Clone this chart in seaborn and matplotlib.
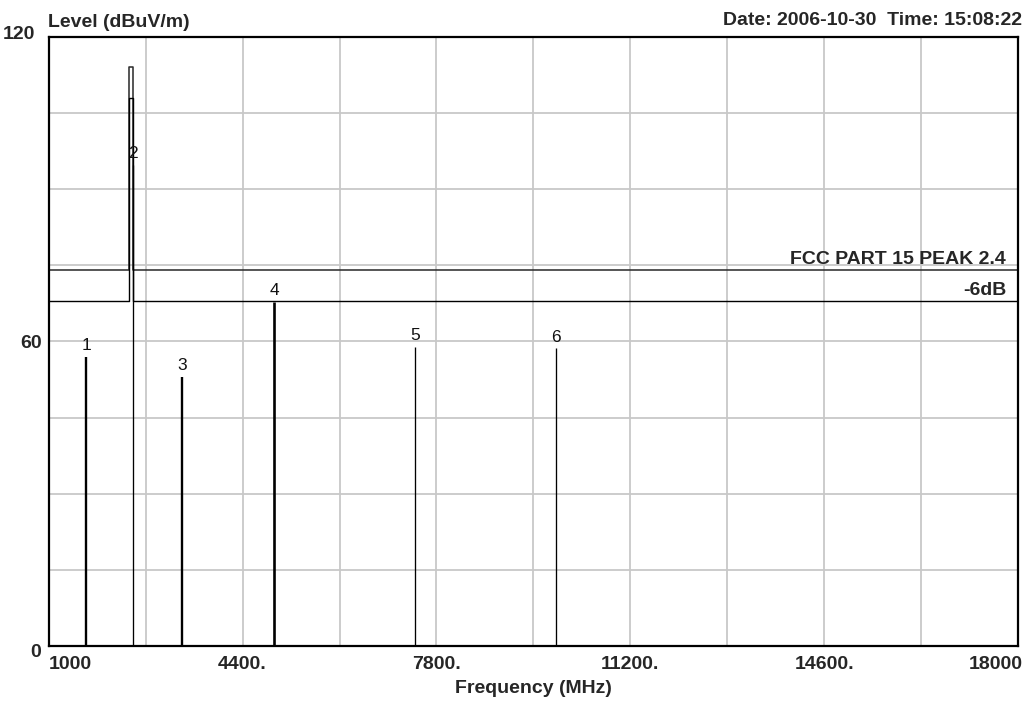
import matplotlib
matplotlib.use("Agg")
import matplotlib.pyplot as plt
import matplotlib.transforms as mtransforms
import numpy as np
import pandas as pd
import seaborn as sns

# FCC Part 15 limits for the 2.4 GHz band (peak limit and 6 dB margin)
limit_freq = [1000, 2400, 2400, 2483.5, 2483.5, 18000]
peak_limit = [74, 74, 114, 114, 74, 74]
margin_limit = [68, 68, 108, 108, 68, 68]

# Measured peaks
marker_ids = ["1", "2", "3", "4", "5", "6"]
marker_freq = [1660, 2475, 3335, 4950, 7425, 9900]
marker_level = [57.0, 94.7, 53.0, 67.8, 58.9, 58.6]

x_ticks = [1000, 4400, 7800, 11200, 14600, 18000]
x_tick_labels = ["1000", "4400.", "7800.", "11200.", "14600.", "18000"]
y_ticks = [0, 60, 120]
y_tick_labels = ["0", "60", "120"]

sns.set_theme(style="white")
plt.rcParams["font.family"] = ["Liberation Sans", "DejaVu Sans"]

fig = plt.figure(figsize=(10.35, 7.02), dpi=100)
ax = fig.add_axes([0.0471, 0.0798, 0.9365, 0.8679])

limits = pd.DataFrame({"freq": limit_freq, "peak": peak_limit, "margin": margin_limit})
sns.lineplot(data=limits, x="freq", y="peak", sort=False, estimator=None,
             color="#303030", linewidth=1.15, ax=ax)
sns.lineplot(data=limits, x="freq", y="margin", sort=False, estimator=None,
             color="#000000", linewidth=1.0, ax=ax)

spike_lw = [1.7, 0.95, 1.7, 1.9, 0.95, 0.95]
ax.vlines(marker_freq, 0, marker_level, colors="black", linewidths=spike_lw, zorder=3)
for mid, f, lvl in zip(marker_ids, marker_freq, marker_level):
    ax.annotate(mid, (f, lvl), xytext=(0, 5), textcoords="offset points",
                ha="center", va="baseline", fontsize=12.5, color="#111111")

ax.annotate("FCC PART 15 PEAK 2.4", (18000, peak_limit[-1]), xytext=(-8.5, 4.3),
            textcoords="offset points", ha="right", va="baseline",
            fontsize=14, fontweight="bold")
ax.annotate("-6dB", (18000, margin_limit[-1]), xytext=(-8, 4.3),
            textcoords="offset points", ha="right", va="baseline",
            fontsize=14, fontweight="bold")

ax.set_xlim(1000, 18000)
ax.set_ylim(0, 120)
ax.set_xticks(x_ticks)
ax.set_xticklabels(x_tick_labels, fontsize=14, fontweight="bold")
ax.set_yticks(y_ticks)
ax.set_yticklabels(y_tick_labels, fontsize=14, fontweight="bold")
ax.set_xticks(np.arange(1000, 18001, 1700), minor=True)
ax.set_yticks(np.arange(0, 121, 15), minor=True)
ax.tick_params(which="both", length=0)
ax.tick_params(axis="x", pad=7)
ax.tick_params(axis="y", pad=4.8)
ax.grid(which="both", color="#c8c8c8", linewidth=1.3)
ax.set_axisbelow(True)

for sp in ax.spines.values():
    sp.set_visible(True)
    sp.set_color("black")
    sp.set_linewidth(1.6)

ax.set_xlabel("Frequency (MHz)", fontsize=14, fontweight="bold", labelpad=5.5)
ax.set_ylabel("")

# nudge end labels the way the analyser prints them
xl = ax.get_xticklabels()
xl[0].set_ha("left")
xl[-1].set_ha("right")
xl[-1].set_transform(xl[-1].get_transform() + mtransforms.ScaledTranslation(5 / 100, 0, fig.dpi_scale_trans))
yl = ax.get_yticklabels()
yl[0].set_transform(yl[0].get_transform() + mtransforms.ScaledTranslation(-1 / 100, -5 / 100, fig.dpi_scale_trans))
yl[-1].set_transform(yl[-1].get_transform() + mtransforms.ScaledTranslation(-7 / 100, 4.5 / 100, fig.dpi_scale_trans))

fig.text(48 / 1035, 1 - 27 / 702, "Level (dBuV/m)", ha="left", va="baseline",
         fontsize=14, fontweight="bold")
fig.text(1022 / 1035, 1 - 25 / 702, "Date: 2006-10-30  Time: 15:08:22", ha="right",
         va="baseline", fontsize=14, fontweight="bold")

fig.savefig("out.png", dpi=100, facecolor="white")
